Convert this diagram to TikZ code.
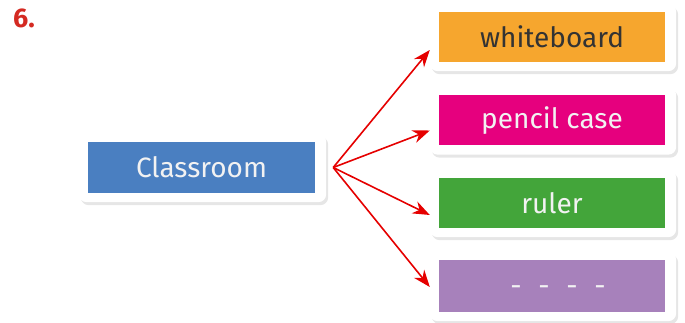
\documentclass[tikz,border=0pt]{standalone}
\usepackage{fontspec}
\setmainfont{Fira Sans}
\usetikzlibrary{shadows,backgrounds,arrows.meta}

\definecolor{clsblue}{HTML}{4A7FC1}
\definecolor{wborange}{HTML}{F6A62E}
\definecolor{pcpink}{HTML}{E6007E}
\definecolor{rlgreen}{HTML}{43A53A}
\definecolor{blpurple}{HTML}{A781BB}
\definecolor{numred}{HTML}{D42A22}

\begin{document}
\begin{tikzpicture}[
  x=1pt, y=-1pt,
  item/.style={minimum width=226pt, minimum height=50pt, inner sep=0pt,
    font=\fontsize{28}{28}\selectfont, text=white!95!black},
  card/.style={fill=white, rounded corners=8pt,
    drop shadow={opacity=0.2, shadow xshift=2pt, shadow yshift=-3pt}},
  arr/.style={red!90!black, line width=1.6pt, -{Stealth[length=17pt,width=13pt]}}
]
\useasboundingbox (0,0) rectangle (685,323);

\node [text=numred, font=\fontsize{27}{27}\selectfont\bfseries] (num) at (24,18) {6.};

\node [item, fill=clsblue, minimum width=227pt, minimum height=51pt] (cls) at (201.5,167.5) {Classroom};

\node [item, fill=wborange, text=black!80] (wb) at (552,37) {whiteboard};
\node [item, fill=pcpink] (pcase) at (552,120.5) {pencil case};
\node [item, fill=rlgreen] (ruler) at (552,203) {ruler};
\node [item, fill=blpurple, minimum height=52pt] (blank) at (552,286)
  {\hspace*{12pt}\raisebox{-9pt}[0pt][0pt]{-\,\, -\,\, -\,\, -}};

% white cards behind the boxes
\begin{scope}[on background layer]
\foreach \n in {cls,wb,pcase,ruler,blank}
  \path [card] ([shift={(-9,-8)}]\n.north west) rectangle ([shift={(11,9)}]\n.south east);
\end{scope}

\coordinate (hub) at ([xshift=18pt]cls.east);
\foreach \n/\dy in {wb/13,pcase/10,ruler/12,blank/1}
  \draw [arr] (hub) -- ([shift={(-9,\dy)}]\n.west);
\end{tikzpicture}
\end{document}
